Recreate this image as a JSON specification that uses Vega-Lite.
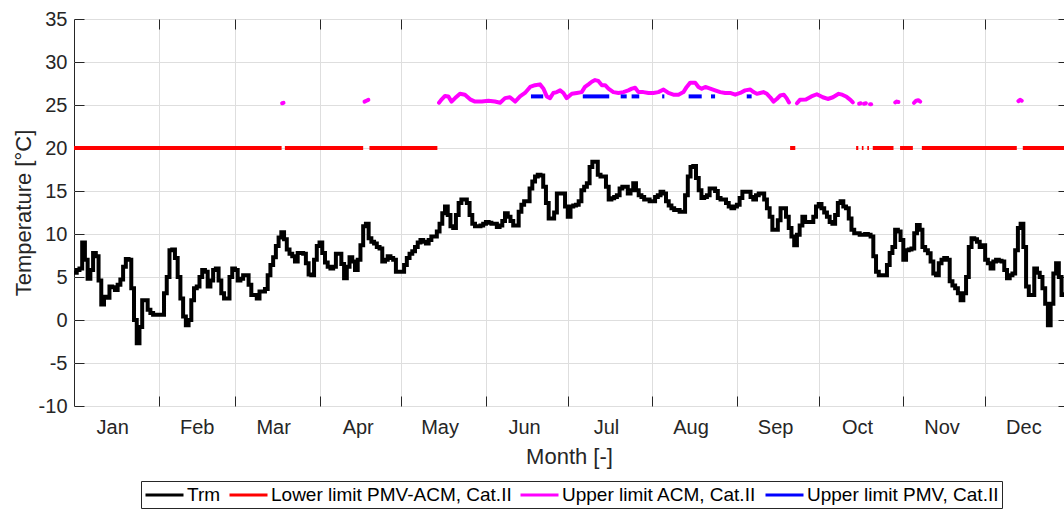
{
"$schema":"https://vega.github.io/schema/vega-lite/v6.json",
"width":990,"height":387,
"autosize":{"type":"none"},
"padding":{"left":74,"top":19,"right":0,"bottom":103},
"background":"white",
"config":{
 "font":"Liberation Sans",
 "view":{"stroke":"#262626","strokeWidth":1},
 "axis":{"labelFont":"Liberation Sans","labelFontSize":20,"labelColor":"#262626","titleFont":"Liberation Sans","titleFontSize":22,"titleFontWeight":"normal","titleColor":"#262626","gridColor":"#dedede","gridWidth":1,"tickColor":"#262626","tickWidth":1,"domain":false,"labelFlush":false,"labelOverlap":false}
},
"datasets":{
"trm":[
{"d":0,"t":5.5},{"d":1,"t":5.8},{"d":2,"t":6.0},{"d":3,"t":9.0},{"d":4,"t":7.0},{"d":5,"t":4.8},{"d":6,"t":5.8},{"d":7,"t":7.8},{"d":8,"t":7.4},{"d":9,"t":4.6},
{"d":10,"t":1.8},{"d":11,"t":2.7},{"d":12,"t":2.6},{"d":13,"t":3.9},{"d":14,"t":3.8},{"d":15,"t":3.5},{"d":16,"t":4.1},{"d":17,"t":4.7},{"d":18,"t":6.2},{"d":19,"t":7.1},
{"d":20,"t":7.0},{"d":21,"t":3.7},{"d":22,"t":0.0},{"d":23,"t":-2.7},{"d":24,"t":-0.8},{"d":25,"t":2.3},{"d":26,"t":2.3},{"d":27,"t":1.2},{"d":28,"t":0.8},{"d":29,"t":0.6},
{"d":30,"t":0.6},{"d":31,"t":0.6},{"d":32,"t":0.6},{"d":33,"t":3.1},{"d":34,"t":5.0},{"d":35,"t":8.1},{"d":36,"t":8.2},{"d":37,"t":7.2},{"d":38,"t":5.0},{"d":39,"t":2.5},
{"d":40,"t":0.4},{"d":41,"t":-0.6},{"d":42,"t":0.0},{"d":43,"t":2.3},{"d":44,"t":3.7},{"d":45,"t":3.9},{"d":46,"t":5.0},{"d":47,"t":5.8},{"d":48,"t":5.6},{"d":49,"t":3.9},
{"d":50,"t":4.6},{"d":51,"t":5.8},{"d":52,"t":6.0},{"d":53,"t":4.6},{"d":54,"t":3.1},{"d":55,"t":2.5},{"d":56,"t":2.5},{"d":57,"t":5.0},{"d":58,"t":6.0},{"d":59,"t":5.8},
{"d":60,"t":4.6},{"d":61,"t":4.8},{"d":62,"t":5.2},{"d":63,"t":5.2},{"d":64,"t":4.1},{"d":65,"t":2.9},{"d":66,"t":2.9},{"d":67,"t":2.5},{"d":68,"t":3.3},{"d":69,"t":3.3},
{"d":70,"t":3.6},{"d":71,"t":5.2},{"d":72,"t":6.4},{"d":73,"t":7.3},{"d":74,"t":8.6},{"d":75,"t":9.6},{"d":76,"t":10.2},{"d":77,"t":9.4},{"d":78,"t":8.2},{"d":79,"t":7.7},
{"d":80,"t":7.4},{"d":81,"t":6.8},{"d":82,"t":7.8},{"d":83,"t":7.8},{"d":84,"t":7.7},{"d":85,"t":6.6},{"d":86,"t":5.3},{"d":87,"t":5.2},{"d":88,"t":7.0},{"d":89,"t":8.6},
{"d":90,"t":9.0},{"d":91,"t":7.8},{"d":92,"t":6.7},{"d":93,"t":6.2},{"d":94,"t":6.0},{"d":95,"t":6.2},{"d":96,"t":7.7},{"d":97,"t":7.7},{"d":98,"t":6.5},{"d":99,"t":4.85},
{"d":100,"t":6.2},{"d":101,"t":7.3},{"d":102,"t":6.8},{"d":103,"t":5.8},{"d":104,"t":7.0},{"d":105,"t":8.7},{"d":106,"t":10.9},{"d":107,"t":11.2},{"d":108,"t":9.5},{"d":109,"t":9.1},
{"d":110,"t":8.9},{"d":111,"t":8.5},{"d":112,"t":8.3},{"d":113,"t":6.8},{"d":114,"t":7.0},{"d":115,"t":7.4},{"d":116,"t":7.2},{"d":117,"t":7.0},{"d":118,"t":5.6},{"d":119,"t":5.6},
{"d":120,"t":5.6},{"d":121,"t":6.4},{"d":122,"t":7.2},{"d":123,"t":7.7},{"d":124,"t":8.0},{"d":125,"t":8.5},{"d":126,"t":9.0},{"d":127,"t":9.3},{"d":128,"t":9.1},{"d":129,"t":8.9},
{"d":130,"t":9.3},{"d":131,"t":9.7},{"d":132,"t":9.7},{"d":133,"t":10.3},{"d":134,"t":11.2},{"d":135,"t":12.4},{"d":136,"t":13.2},{"d":137,"t":12.2},{"d":138,"t":10.9},{"d":139,"t":10.7},
{"d":140,"t":12.2},{"d":141,"t":13.6},{"d":142,"t":14.0},{"d":143,"t":14.0},{"d":144,"t":13.6},{"d":145,"t":12.2},{"d":146,"t":11.2},{"d":147,"t":10.9},{"d":148,"t":10.9},{"d":149,"t":11.0},
{"d":150,"t":11.2},{"d":151,"t":11.4},{"d":152,"t":11.3},{"d":153,"t":11.2},{"d":154,"t":11.2},{"d":155,"t":10.8},{"d":156,"t":11.0},{"d":157,"t":11.5},{"d":158,"t":12.4},{"d":159,"t":12.0},
{"d":160,"t":11.5},{"d":161,"t":11.0},{"d":162,"t":11.0},{"d":163,"t":12.6},{"d":164,"t":13.4},{"d":165,"t":13.8},{"d":166,"t":13.8},{"d":167,"t":15.3},{"d":168,"t":16.1},{"d":169,"t":16.7},
{"d":170,"t":16.9},{"d":171,"t":16.8},{"d":172,"t":15.5},{"d":173,"t":13.6},{"d":174,"t":11.8},{"d":175,"t":11.8},{"d":176,"t":12.5},{"d":177,"t":14.7},{"d":178,"t":14.7},{"d":179,"t":14.7},
{"d":180,"t":13.2},{"d":181,"t":12.0},{"d":182,"t":13.2},{"d":183,"t":13.3},{"d":184,"t":13.4},{"d":185,"t":13.8},{"d":186,"t":15.1},{"d":187,"t":15.5},{"d":188,"t":15.9},{"d":189,"t":17.8},
{"d":190,"t":18.4},{"d":191,"t":18.4},{"d":192,"t":16.9},{"d":193,"t":16.7},{"d":194,"t":16.7},{"d":195,"t":15.5},{"d":196,"t":14.0},{"d":197,"t":14.15},{"d":198,"t":14.3},{"d":199,"t":14.5},
{"d":200,"t":15.3},{"d":201,"t":15.5},{"d":202,"t":15.5},{"d":203,"t":14.7},{"d":204,"t":15.1},{"d":205,"t":15.9},{"d":206,"t":15.1},{"d":207,"t":14.5},{"d":208,"t":14.3},{"d":209,"t":14.0},
{"d":210,"t":14.0},{"d":211,"t":13.8},{"d":212,"t":13.8},{"d":213,"t":14.3},{"d":214,"t":14.5},{"d":215,"t":14.9},{"d":216,"t":14.7},{"d":217,"t":13.8},{"d":218,"t":13.3},{"d":219,"t":13.0},
{"d":220,"t":12.8},{"d":221,"t":12.8},{"d":222,"t":12.6},{"d":223,"t":12.6},{"d":224,"t":14.5},{"d":225,"t":16.7},{"d":226,"t":17.8},{"d":227,"t":17.9},{"d":228,"t":16.5},{"d":229,"t":15.1},
{"d":230,"t":14.2},{"d":231,"t":14.3},{"d":232,"t":14.5},{"d":233,"t":15.3},{"d":234,"t":15.3},{"d":235,"t":15.0},{"d":236,"t":14.2},{"d":237,"t":14.0},{"d":238,"t":14.0},{"d":239,"t":13.6},
{"d":240,"t":13.2},{"d":241,"t":13.0},{"d":242,"t":13.2},{"d":243,"t":13.4},{"d":244,"t":14.2},{"d":245,"t":14.9},{"d":246,"t":14.9},{"d":247,"t":14.9},{"d":248,"t":14.3},{"d":249,"t":14.0},
{"d":250,"t":14.5},{"d":251,"t":14.7},{"d":252,"t":14.7},{"d":253,"t":14.0},{"d":254,"t":13.0},{"d":255,"t":12.0},{"d":256,"t":10.5},{"d":257,"t":10.5},{"d":258,"t":11.6},{"d":259,"t":13.0},
{"d":260,"t":13.0},{"d":261,"t":12.0},{"d":262,"t":10.7},{"d":263,"t":9.7},{"d":264,"t":8.7},{"d":265,"t":9.9},{"d":266,"t":11.0},{"d":267,"t":12.0},{"d":268,"t":11.4},{"d":269,"t":11.4},
{"d":270,"t":11.4},{"d":271,"t":12.0},{"d":272,"t":13.2},{"d":273,"t":13.5},{"d":274,"t":13.0},{"d":275,"t":12.5},{"d":276,"t":12.0},{"d":277,"t":11.4},{"d":278,"t":11.2},{"d":279,"t":12.2},
{"d":280,"t":13.6},{"d":281,"t":13.8},{"d":282,"t":13.2},{"d":283,"t":13.0},{"d":284,"t":11.8},{"d":285,"t":10.5},{"d":286,"t":10.1},{"d":287,"t":10.1},{"d":288,"t":9.9},{"d":289,"t":9.9},
{"d":290,"t":10.0},{"d":291,"t":9.9},{"d":292,"t":9.7},{"d":293,"t":7.4},{"d":294,"t":5.6},{"d":295,"t":5.2},{"d":296,"t":5.2},{"d":297,"t":5.2},{"d":298,"t":6.4},{"d":299,"t":7.8},
{"d":300,"t":8.5},{"d":301,"t":10.5},{"d":302,"t":10.3},{"d":303,"t":9.3},{"d":304,"t":7.0},{"d":305,"t":8.1},{"d":306,"t":8.2},{"d":307,"t":8.3},{"d":308,"t":10.1},{"d":309,"t":11.05},
{"d":310,"t":10.5},{"d":311,"t":8.5},{"d":312,"t":8.1},{"d":313,"t":7.75},{"d":314,"t":6.8},{"d":315,"t":5.4},{"d":316,"t":5.2},{"d":317,"t":6.6},{"d":318,"t":7.0},{"d":319,"t":7.2},
{"d":320,"t":7.0},{"d":321,"t":4.5},{"d":322,"t":4.0},{"d":323,"t":3.7},{"d":324,"t":3.1},{"d":325,"t":2.3},{"d":326,"t":3.1},{"d":327,"t":5.0},{"d":328,"t":8.5},{"d":329,"t":9.5},
{"d":330,"t":9.4},{"d":331,"t":9.1},{"d":332,"t":8.5},{"d":333,"t":8.7},{"d":334,"t":7.0},{"d":335,"t":6.6},{"d":336,"t":6.0},{"d":337,"t":6.8},{"d":338,"t":7.0},{"d":339,"t":6.9},
{"d":340,"t":6.8},{"d":341,"t":5.8},{"d":342,"t":4.85},{"d":343,"t":5.2},{"d":344,"t":5.4},{"d":345,"t":8.1},{"d":346,"t":10.7},{"d":347,"t":11.2},{"d":348,"t":8.5},{"d":349,"t":3.9},
{"d":350,"t":2.9},{"d":351,"t":2.9},{"d":352,"t":6.0},{"d":353,"t":5.5},{"d":354,"t":5.0},{"d":355,"t":3.7},{"d":356,"t":1.9},{"d":357,"t":-0.6},{"d":358,"t":1.9},{"d":359,"t":5.4},
{"d":360,"t":6.6},{"d":361,"t":5.0},{"d":362,"t":2.9},{"d":363,"t":3.0},{"d":364,"t":3.5},{"d":365,"t":3.5}
],
"lower":[
{"d":0,"t":20,"g":1},{"d":76.1,"t":20,"g":1},
{"d":77.3,"t":20,"g":2},{"d":106.0,"t":20,"g":2},
{"d":108.3,"t":20,"g":3},{"d":133.2,"t":20,"g":3},
{"d":262.5,"t":20,"g":4},{"d":264.4,"t":20,"g":4},
{"d":286.7,"t":20,"g":5},{"d":287.5,"t":20,"g":5},
{"d":288.8,"t":20,"g":6},{"d":289.4,"t":20,"g":6},
{"d":290.8,"t":20,"g":7},{"d":291.4,"t":20,"g":7},
{"d":292.8,"t":20,"g":8},{"d":300.4,"t":20,"g":8},
{"d":302.8,"t":20,"g":9},{"d":307.5,"t":20,"g":9},
{"d":310.8,"t":20,"g":10},{"d":345.6,"t":20,"g":10},
{"d":347.8,"t":20,"g":11},{"d":365,"t":20,"g":11}
],
"acm":[
{"d":76.3,"t":25.2,"g":1},{"d":76.8,"t":25.25,"g":1},
{"d":106.5,"t":25.4,"g":2},{"d":107.2,"t":25.5,"g":2},{"d":107.9,"t":25.6,"g":2},
{"d":133.8,"t":25.27,"g":3},{"d":134.8,"t":25.66,"g":3},{"d":136,"t":26.05,"g":3},{"d":137.2,"t":26.0,"g":3},{"d":138.4,"t":25.4,"g":3},{"d":139.7,"t":25.8,"g":3},{"d":141.5,"t":26.3,"g":3},{"d":143.3,"t":26.2,"g":3},{"d":145.2,"t":25.66,"g":3},{"d":147,"t":25.4,"g":3},{"d":149.5,"t":25.4,"g":3},{"d":151.9,"t":25.5,"g":3},{"d":154.3,"t":25.4,"g":3},{"d":156.2,"t":25.27,"g":3},{"d":158,"t":25.8,"g":3},{"d":159.8,"t":25.9,"g":3},{"d":161.7,"t":25.4,"g":3},{"d":163.5,"t":26.0,"g":3},{"d":165.3,"t":26.4,"g":3},{"d":167.2,"t":27.1,"g":3},{"d":169,"t":27.3,"g":3},{"d":170.8,"t":27.4,"g":3},{"d":172.1,"t":26.9,"g":3},{"d":173.3,"t":26.0,"g":3},{"d":174.5,"t":25.8,"g":3},{"d":175.7,"t":26.4,"g":3},{"d":177,"t":26.5,"g":3},{"d":178.2,"t":26.7,"g":3},{"d":179.4,"t":26.4,"g":3},{"d":180.6,"t":25.8,"g":3},{"d":182.5,"t":26.3,"g":3},{"d":184.3,"t":26.4,"g":3},{"d":186.1,"t":26.5,"g":3},{"d":187.3,"t":27.1,"g":3},{"d":188.6,"t":27.4,"g":3},{"d":189.8,"t":27.7,"g":3},{"d":191,"t":27.9,"g":3},{"d":192.2,"t":27.8,"g":3},{"d":193.5,"t":27.3,"g":3},{"d":194.7,"t":27.3,"g":3},{"d":195.9,"t":26.9,"g":3},{"d":197.7,"t":26.5,"g":3},{"d":199.6,"t":26.4,"g":3},{"d":201.4,"t":26.5,"g":3},{"d":203.2,"t":26.7,"g":3},{"d":204.5,"t":26.9,"g":3},{"d":205.7,"t":27.0,"g":3},{"d":206.9,"t":26.5,"g":3},{"d":208.7,"t":26.5,"g":3},{"d":210.6,"t":26.4,"g":3},{"d":212.4,"t":26.4,"g":3},{"d":214.2,"t":26.5,"g":3},{"d":216.1,"t":26.8,"g":3},{"d":217.9,"t":26.4,"g":3},{"d":219.7,"t":26.2,"g":3},{"d":221.6,"t":26.2,"g":3},{"d":223.4,"t":26.5,"g":3},{"d":224.6,"t":27.1,"g":3},{"d":225.9,"t":27.6,"g":3},{"d":227.7,"t":27.6,"g":3},{"d":228.9,"t":27.1,"g":3},{"d":230.1,"t":26.9,"g":3},{"d":231.4,"t":27.1,"g":3},{"d":233.2,"t":26.9,"g":3},{"d":235,"t":26.7,"g":3},{"d":236.9,"t":26.5,"g":3},{"d":238.7,"t":26.4,"g":3},{"d":240.5,"t":26.4,"g":3},{"d":242.4,"t":26.2,"g":3},{"d":244.2,"t":26.4,"g":3},{"d":246,"t":26.7,"g":3},{"d":247.9,"t":26.8,"g":3},{"d":249.1,"t":26.5,"g":3},{"d":250.3,"t":26.3,"g":3},{"d":251.5,"t":26.4,"g":3},{"d":252.7,"t":26.5,"g":3},{"d":254,"t":26.3,"g":3},{"d":255.2,"t":25.9,"g":3},{"d":256.4,"t":25.4,"g":3},{"d":257.6,"t":25.7,"g":3},{"d":258.9,"t":26.1,"g":3},{"d":260.2,"t":26.2,"g":3},{"d":261.2,"t":25.8,"g":3},{"d":262.1,"t":25.3,"g":3},
{"d":265.0,"t":25.2,"g":4},{"d":266.1,"t":25.6,"g":4},{"d":268.3,"t":25.65,"g":4},{"d":270.3,"t":26.0,"g":4},{"d":272.3,"t":26.25,"g":4},{"d":274.5,"t":25.9,"g":4},{"d":276.3,"t":25.7,"g":4},{"d":278.2,"t":25.9,"g":4},{"d":280.3,"t":26.3,"g":4},{"d":281.6,"t":26.2,"g":4},{"d":283.2,"t":25.95,"g":4},{"d":284.6,"t":25.6,"g":4},{"d":285.5,"t":25.3,"g":4},
{"d":287.8,"t":25.15,"g":5},{"d":288.4,"t":25.2,"g":5},
{"d":289.6,"t":25.15,"g":6},{"d":290.3,"t":25.2,"g":6},
{"d":291.8,"t":25.1,"g":7},{"d":292.2,"t":25.1,"g":7},
{"d":301.0,"t":25.3,"g":8},{"d":301.6,"t":25.4,"g":8},{"d":302.2,"t":25.35,"g":8},
{"d":307.9,"t":25.25,"g":9},{"d":308.7,"t":25.5,"g":9},{"d":309.5,"t":25.55,"g":9},{"d":310.2,"t":25.4,"g":9},
{"d":346.2,"t":25.45,"g":10},{"d":346.8,"t":25.6,"g":10},{"d":347.4,"t":25.5,"g":10}
],
"pmv":[
{"d":167.5,"t":26,"g":1},{"d":172.0,"t":26,"g":1},
{"d":186.5,"t":26,"g":2},{"d":196.2,"t":26,"g":2},
{"d":200.4,"t":26,"g":3},{"d":202.6,"t":26,"g":3},
{"d":204.4,"t":26,"g":4},{"d":207.2,"t":26,"g":4},
{"d":215.6,"t":26,"g":5},{"d":216.4,"t":26,"g":5},
{"d":225.3,"t":26,"g":6},{"d":230.1,"t":26,"g":6},
{"d":233.5,"t":26,"g":7},{"d":235.0,"t":26,"g":7},
{"d":246.6,"t":26,"g":8},{"d":248.4,"t":26,"g":8}
]
},
"resolve":{"axis":{"x":"independent","y":"independent"}},
"layer":[
{
 "data":{"name":"trm"},
 "mark":{"type":"line","interpolate":"step-after","strokeWidth":4,"clip":true},
 "encoding":{
  "x":{"field":"d","type":"quantitative","scale":{"domain":[0,362.9],"nice":false,"zero":false},
   "axis":{"orient":"bottom","values":[14,45,73,104,134,165,195,226,257,287,318,348],
    "labelExpr":"['Jan','Feb','Mar','Apr','May','Jun','Jul','Aug','Sep','Oct','Nov','Dec'][indexof([14,45,73,104,134,165,195,226,257,287,318,348], datum.value)]",
    "ticks":false,"grid":false,"labelPadding":11,"title":"Month [-]","titlePadding":9}},
  "y":{"field":"t","type":"quantitative","scale":{"domain":[-10,35],"nice":false,"zero":false},
   "axis":{"orient":"left","values":[-10,-5,0,5,10,15,20,25,30,35],"labelExpr":"datum.value < 0 ? '-' + abs(datum.value) : '' + datum.value","ticks":false,"grid":true,"labelPadding":7,"title":"Temperature [°C]","titlePadding":3}},
  "color":{"datum":"Trm","type":"nominal",
   "scale":{"domain":["Trm","Lower limit PMV-ACM, Cat.II","Upper limit ACM, Cat.II","Upper limit PMV, Cat.II"],"range":["#000000","#ff0000","#ff00ff","#0000ff"]},
   "legend":{"orient":"none","legendX":67,"legendY":462,"direction":"horizontal","columns":4,"title":null,
    "symbolType":"M-1,0H3","symbolSize":361,"symbolStrokeWidth":3,
    "labelFont":"Liberation Sans","labelFontSize":19,"labelColor":"#000000","labelOffset":21,"labelLimit":400,
    "columnPadding":2,"padding":3,"strokeColor":"#262626","fillColor":"#ffffff"}}
 }
},
{
 "data":{"name":"lower"},
 "mark":{"type":"line","strokeWidth":4,"strokeCap":"butt","clip":true},
 "encoding":{
  "x":{"field":"d","type":"quantitative","axis":{"orient":"bottom","values":[31,59,90,120,151,181,212,243,273,304,334],"labels":false,"ticks":true,"tickSize":-10,"grid":true,"title":null}},
  "y":{"field":"t","type":"quantitative","axis":{"orient":"right","values":[-10,-5,0,5,10,15,20,25,30,35],"labels":false,"ticks":true,"tickSize":-6,"grid":false,"title":null}},
  "detail":{"field":"g","type":"nominal"},
  "color":{"datum":"Lower limit PMV-ACM, Cat.II","type":"nominal"}
 }
},
{
 "data":{"name":"acm"},
 "mark":{"type":"line","strokeWidth":4,"strokeCap":"round","strokeJoin":"round","clip":true},
 "encoding":{
  "x":{"field":"d","type":"quantitative","axis":{"orient":"top","values":[31,59,90,120,151,181,212,243,273,304,334],"labels":false,"ticks":true,"tickSize":-10,"grid":false,"title":null}},
  "y":{"field":"t","type":"quantitative","axis":{"orient":"left","values":[-10,-5,0,5,10,15,20,25,30,35],"labels":false,"ticks":true,"tickSize":-10,"grid":false,"title":null}},
  "detail":{"field":"g","type":"nominal"},
  "color":{"datum":"Upper limit ACM, Cat.II","type":"nominal"}
 }
},
{
 "data":{"name":"pmv"},
 "mark":{"type":"line","strokeWidth":4,"strokeCap":"butt","clip":true},
 "encoding":{
  "x":{"field":"d","type":"quantitative","axis":null},
  "y":{"field":"t","type":"quantitative","axis":null},
  "detail":{"field":"g","type":"nominal"},
  "color":{"datum":"Upper limit PMV, Cat.II","type":"nominal"}
 }
}
]
}
